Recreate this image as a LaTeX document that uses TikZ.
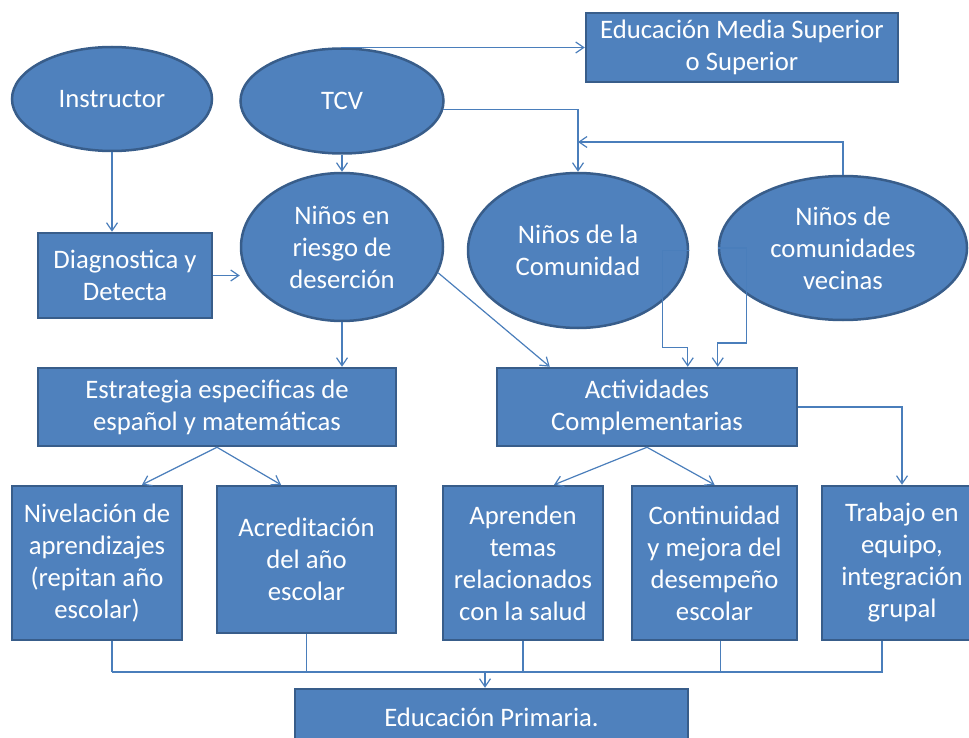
\documentclass[tikz,border=0pt]{standalone}
\usepackage{fontspec}
\setmainfont{Carlito}
\usepackage{tikz}
\usetikzlibrary{calc,positioning,shapes,arrows.meta}
\definecolor{boxc}{RGB}{79,129,189}
\definecolor{bordc}{RGB}{56,93,138}
\definecolor{linec}{RGB}{74,126,187}
\newcommand{\dfont}{\fontsize{26.7}{32}\selectfont}

\begin{document}
\begin{tikzpicture}[x=1pt, y=-1pt]
\tikzstyle{ell}=[ellipse, draw=bordc, line width=2.5pt, fill=boxc, text=white,
                        inner sep=0pt, align=center, font=\dfont]
\tikzstyle{blk}=[rectangle, draw=bordc, line width=2.5pt, fill=boxc, text=white,
                        inner sep=0pt, align=center, font=\dfont]
\tikzstyle{con}=[linec, line width=1.2pt, -{Straight Barb[length=8pt,width=11pt]}]
\tikzstyle{wire}=[linec, line width=1.2pt]
\useasboundingbox (0,0) rectangle (969,738);
% top row
\node[ell, minimum width=200pt, minimum height=104pt] (instr) at (112,99) {Instructor};
\node[ell, minimum width=203pt, minimum height=105pt] (tcv) at (342,101) {TCV};
\node[blk, minimum width=312pt, minimum height=69pt] (ems) at (742,47.5) {Educación Media Superior\\o Superior};
% second row
\node[blk, minimum width=174pt, minimum height=85pt] (diag) at (125,275.5) {Diagnostica y\\Detecta};
\node[ell, minimum width=202pt, minimum height=148pt] (riesgo) at (342,247) {Niños en\\riesgo de\\deserción};
\node[ell, minimum width=220pt, minimum height=155pt] (comun) at (578,250.5) {Niños de la\\Comunidad};
\node[ell, minimum width=248pt, minimum height=144pt] (vecin) at (843,248) {Niños de\\comunidades\\vecinas};
% third row
\node[blk, minimum width=358pt, minimum height=78pt] (estr) at (217,407) {Estrategia especificas de\\español y matemáticas};
\node[blk, minimum width=300pt, minimum height=78pt] (activ) at (647,407) {Actividades\\Complementarias};
% fourth row
\node[blk, minimum width=170pt, minimum height=154pt] (nivel) at (97,563) {Nivelación de\\aprendizajes\\(repitan año\\escolar)};
\node[blk, minimum width=179pt, minimum height=147pt] (acred) at (306.5,559.5) {Acreditación\\del año\\escolar};
\node[blk, minimum width=160pt, minimum height=154pt] (aprend) at (523,563) {Aprenden\\temas\\relacionados\\con la salud};
\node[blk, minimum width=165pt, minimum height=154pt] (contin) at (714.5,563) {Continuidad\\y mejora del\\desempeño\\escolar};
\node[blk, minimum width=160pt, minimum height=154pt] (trab) at (902,563) {Trabajo en\\equipo,\\integración\\grupal};
\node[blk, minimum width=393pt, minimum height=56pt] (prim) at (491.5,717) {Educación Primaria.};
\coordinate (meet) at (578,142);
\coordinate (busL) at (112,672);
\coordinate (busR) at (882,672);
\coordinate (busM) at (485,672);
% connectors
\draw[con] (tcv.north) |- (ems.west);
\draw[con] (tcv.-5) -| (comun.north);
\draw[con] (vecin.north) |- (meet);
\draw[con] (tcv.south) -- (riesgo.north);
\draw[con] (instr.south) -- (instr.south |- diag.north);
\draw[con] (diag.east) -- (diag.east -| riesgo.west);
\draw[con] (riesgo.south) -- (riesgo.south |- estr.north);
\draw[con] (riesgo.-15) -- ([xshift=54pt]activ.north west);
\draw[con] (comun.east) -| ++(-27,97) -| ([xshift=192pt]activ.north west);
\draw[con] (vecin.west) -| ++(29,95) -| ([xshift=222pt]activ.north west);
\foreach \i/\s in {nivel/45, acred/-25.5}{\draw[con] (estr.south) -- ([xshift=\s pt]\i.north);}
\foreach \i/\s in {aprend/31, contin/0}{\draw[con] (activ.south) -- ([xshift=\s pt]\i.north);}
\draw[con] (activ.east) -| (trab.north);
% bus to primaria
\foreach \i/\s in {nivel/15, acred/0, aprend/0, contin/6, trab/-20}{\draw[wire] ([xshift=\s pt]\i.south) |- (busL);}
\draw[wire] (busL) -- (busR);
\draw[con] (busM) -- (busM |- prim.north);
\end{tikzpicture}
\end{document}
